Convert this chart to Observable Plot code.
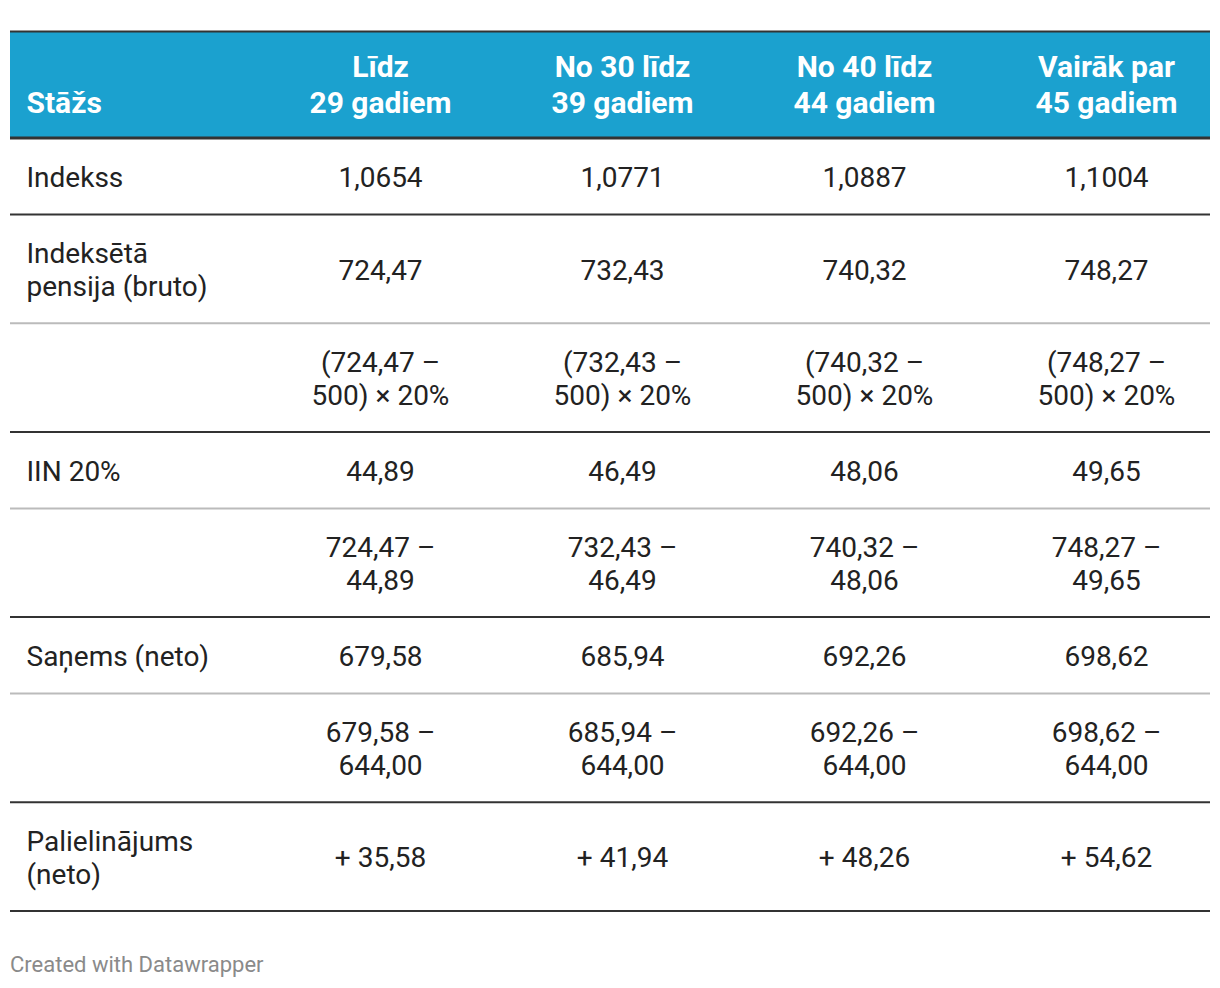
<!DOCTYPE html>
<html>
<head>
<meta charset="utf-8">
<script src="https://cdn.jsdelivr.net/npm/d3@7"></script>
<script src="https://cdn.jsdelivr.net/npm/@observablehq/plot@0.6"></script>
<style>
  body { margin: 0; background: #fff; font-family: Roboto, sans-serif; }
  #caption { margin: 0 0 0 10px; padding-top: 28px; font-size: 22px; line-height: 24px; color: #8a8a8a; font-family: Roboto, sans-serif; }
</style>
</head>
<body>
<div id="chart"></div>
<div id="caption">Created with Datawrapper</div>
<script>
// ---- Data ----
const headerLabel = "Stāžs";
const columns = ["Līdz\n29 gadiem", "No 30 līdz\n39 gadiem", "No 40 līdz\n44 gadiem", "Vairāk par\n45 gadiem"];
const rowLabels = ["Indekss", "Indeksētā\npensija (bruto)", "", "IIN 20%", "", "Saņems (neto)", "", "Palielinājums\n(neto)"];
const indexValues = [1.0654, 1.0771, 1.0887, 1.1004];
const grossPension = [724.47, 732.43, 740.32, 748.27];
const taxIIN = [44.89, 46.49, 48.06, 49.65];
const netPension = [679.58, 685.94, 692.26, 698.62];
const previousNet = 644.00;
const taxThreshold = 500;
const taxRate = 20;
const netIncrease = [35.58, 41.94, 48.26, 54.62];

// ---- Build table rows ----
const fmt = (v, d) => v.toFixed(d).replace(".", ",");
const rowCells = [
  indexValues.map(v => fmt(v, 4)),
  grossPension.map(v => fmt(v, 2)),
  grossPension.map(v => `(${fmt(v, 2)} –\n${taxThreshold}) × ${taxRate}%`),
  taxIIN.map(v => fmt(v, 2)),
  grossPension.map((v, i) => `${fmt(v, 2)} –\n${fmt(taxIIN[i], 2)}`),
  netPension.map(v => fmt(v, 2)),
  netPension.map(v => `${fmt(v, 2)} –\n${fmt(previousNet, 2)}`),
  netIncrease.map(v => "+ " + fmt(v, 2))
];

// ---- Layout (derived from line counts) ----
const tableTop = 31, headerBottom = 137.5, rowPad = 44.3, lineStep = 32.2;
let cursor = headerBottom;
const rows = rowLabels.map((label, i) => {
  const lines = Math.max(label.split("\n").length, ...rowCells[i].map(c => c.split("\n").length));
  const h = rowPad + lineStep * lines;
  const r = {label, top: cursor, bottom: cursor + h, mid: cursor + h / 2};
  cursor += h;
  return r;
});
rows.forEach((r, i) => {
  const next = rowLabels[i + 1];
  r.dark = next === undefined || next !== "";
});
const cells = rows.flatMap((r, i) => rowCells[i].map((text, j) => ({col: columns[j], mid: r.mid, text})));

const H = 925;
const chart = Plot.plot({
  width: 1220,
  height: H,
  margin: 0,
  marginLeft: 10,
  marginRight: 10,
  x: {type: "point", domain: columns, range: [379, 1106], padding: 0, axis: null},
  y: {type: "linear", domain: [0, H], range: [0, H], axis: null},
  style: {fontFamily: "Roboto, sans-serif", background: "white", overflow: "visible"},
  marks: [
    Plot.rect([headerLabel], {y1: () => tableTop, y2: () => headerBottom, fill: "#1ba1cf"}),
    Plot.ruleY([tableTop], {stroke: "#333", strokeWidth: 2}),
    Plot.ruleY([headerBottom], {stroke: "#333", strokeWidth: 3}),
    Plot.ruleY(rows, {y: "bottom", stroke: d => d.dark ? "#333333" : "#bbbbbb", strokeWidth: 2}),
    Plot.text([headerLabel], {y: () => 112, text: d => d, frameAnchor: "left", textAnchor: "start", dx: 16, lineAnchor: "bottom", fontSize: 30, fontWeight: 700, fill: "white"}),
    Plot.text(columns, {x: d => d, y: () => 112, text: d => d, lineAnchor: "bottom", lineHeight: 1.2, fontSize: 30, fontWeight: 700, fill: "white"}),
    Plot.text(rows, {y: "mid", text: "label", frameAnchor: "left", textAnchor: "start", dx: 16, lineAnchor: "middle", lineHeight: 1.2, fontSize: 28, fill: "#222"}),
    Plot.text(cells, {x: "col", y: "mid", text: "text", lineAnchor: "middle", lineHeight: 1.2, fontSize: 28, fill: "#222"})
  ]
});
document.getElementById("chart").append(chart);
</script>
</body>
</html>
